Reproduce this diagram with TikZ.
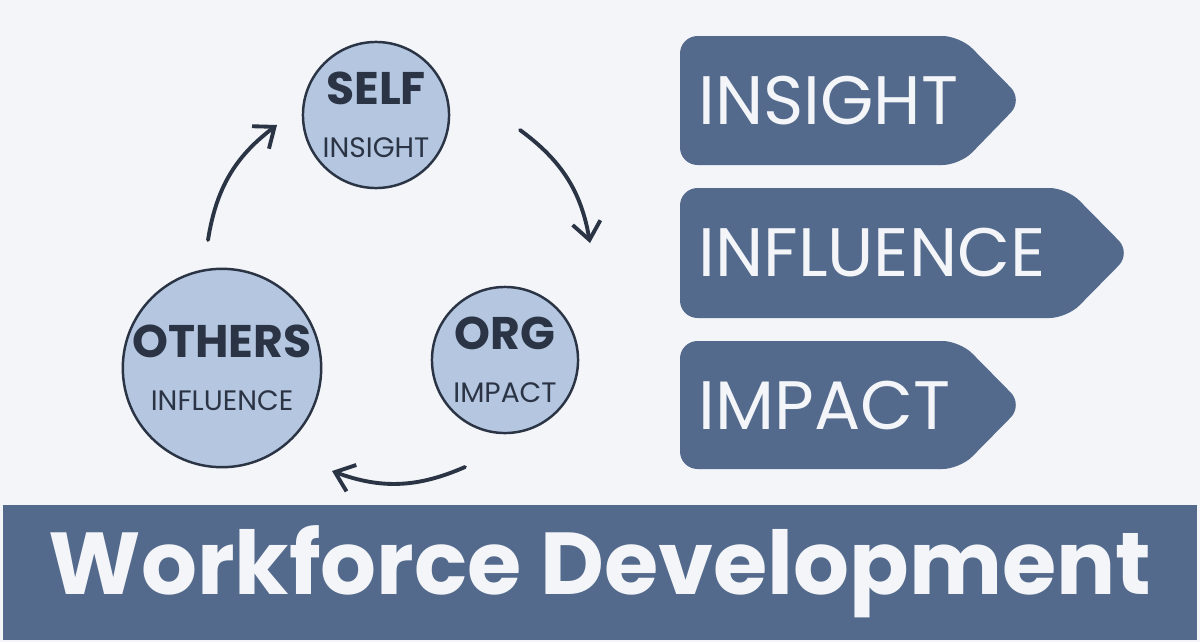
\documentclass[tikz,border=0pt]{standalone}
\usepackage{fontspec}
\setmainfont{Poppins}
\usetikzlibrary{arrows.meta}
\definecolor{bgcol}{HTML}{F3F5F9}
\definecolor{navy}{HTML}{536A8C}
\definecolor{ring}{HTML}{B4C6E0}
\definecolor{ink}{HTML}{2B3444}
\tikzset{
  stage/.style={circle,draw=ink,line width=0.7pt,fill=ring,minimum size=14.6mm,inner sep=0pt,align=center,text=ink},
  flow/.style={draw=ink,line width=1.1pt,-{Straight Barb[length=5pt,width=8pt]},line cap=round},
  banner/.style={fill=navy,rounded corners=5pt},
  bannertext/.style={anchor=west,text=bgcol,font=\fontsize{19.5}{22}\selectfont}
}
\begin{document}
\begin{tikzpicture}[x=0.01cm,y=-0.01cm]
  \useasboundingbox (0,0) rectangle (1200,642);
  \fill[bgcol] (0,0) rectangle (1200,642);

% cycle of stages
  \node[stage] (self) at (376,115) {{\fontsize{13}{14}\bfseries SELF}\\[3pt]{\fontsize{8}{9}\selectfont INSIGHT}};
  \node[stage] (others) at (222,368) {{\fontsize{13}{14}\bfseries OTHERS}\\[3pt]{\fontsize{8}{9}\selectfont INFLUENCE}};
  \node[stage] (org) at (505,360) {{\fontsize{13}{14}\bfseries ORG}\\[3pt]{\fontsize{8}{9}\selectfont IMPACT}};

  \coordinate (a1) at (208,240); \coordinate (a2) at (277,125);
  \coordinate (b1) at (520,130); \coordinate (b2) at (590,243);
  \coordinate (c1) at (465,467); \coordinate (c2) at (332,471);
  \draw[flow] (a1) to[bend left=22] (a2);
  \draw[flow] (b1) to[bend left=22] (b2);
  \draw[flow] (c1) to[bend left=22] (c2);

% banners
  \fill[banner] (680,36) -- (960,36) -- (1023,100) -- (960,165) -- (680,165) -- cycle;
  \node[bannertext] (insight) at (686,101) {INSIGHT};
  \fill[banner] (680,188) -- (1067,188) -- (1131,253) -- (1067,318) -- (680,318) -- cycle;
  \node[bannertext] (influence) at (686,253) {INFLUENCE};
  \fill[banner] (680,341) -- (960,341) -- (1023,405) -- (960,469) -- (680,469) -- cycle;
  \node[bannertext] (impact) at (686,405) {IMPACT};

% title bar
  \fill[navy] (3,505) rectangle (1197,640);
  \node[text=bgcol,font=\fontsize{25}{28}\selectfont\bfseries] (title) at (600,572) {Workforce Development};
\end{tikzpicture}
\end{document}
